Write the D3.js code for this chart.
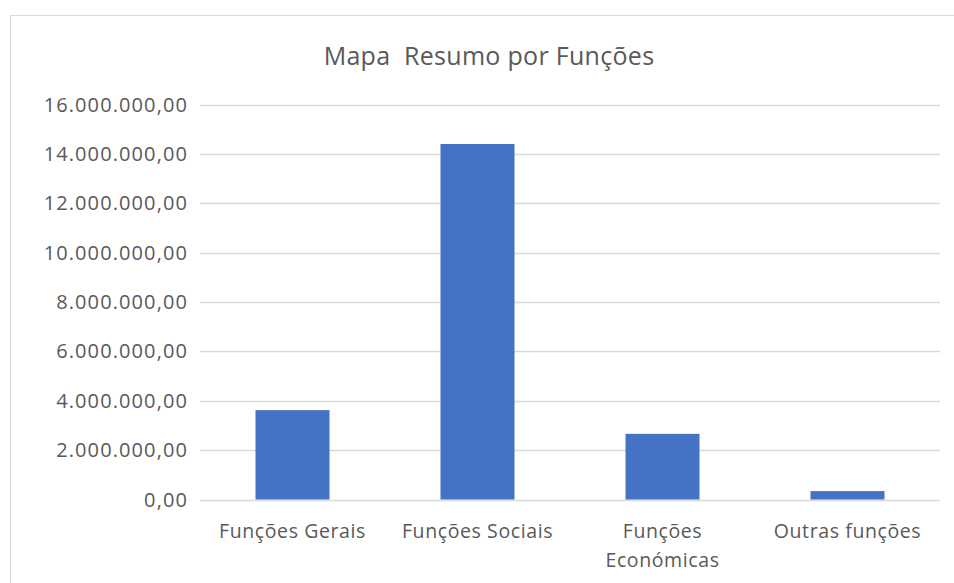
<!DOCTYPE html>
<html>
  <script src="https://d3js.org/d3.v7.min.js" type="text/JavaScript"></script>
  <style>
    body { margin: 0; background: #fff; }
    text { font-family: "Open Sans", sans-serif; fill: #595959; }
  </style>
  <body>
    <svg></svg>
    <script>
var categories = ['Funções Gerais', 'Funções Sociais', 'Funções Económicas', 'Outras funções'];
var values = [3620000, 14400000, 2660000, 340000];
var yTicks = [0, 2000000, 4000000, 6000000, 8000000, 10000000, 12000000, 14000000, 16000000];
var title = 'Mapa  Resumo por Funções';

var width = 954, height = 583;
var svg = d3.select('svg').attr('width', width).attr('height', height);

// chart border (runs past the window on right and bottom)
svg.append('rect')
  .attr('x', 10.5).attr('y', 15.5)
  .attr('width', 960).attr('height', 600)
  .style('fill', 'none')
  .style('stroke', '#d9d9d9');

var xScale = d3.scaleBand().domain(categories).range([200, 940]).paddingInner(0.6).paddingOuter(0.3);
var yScale = d3.scaleLinear().domain([0, 16000000]).range([499.5, 104.5]);

// number format like 16.000.000,00
var ptLocale = d3.formatLocale({ decimal: ',', thousands: '.', grouping: [3], currency: ['', ''] });
var fmt = ptLocale.format(',.2f');

// gridlines
svg.append('g')
  .selectAll('line')
  .data(yTicks)
  .enter()
  .append('line')
    .attr('x1', 200).attr('x2', 940)
    .attr('y1', d => Math.round(yScale(d)) + 0.5)
    .attr('y2', d => Math.round(yScale(d)) + 0.5)
    .style('stroke', '#d9d9d9')
    .style('stroke-width', '1.3px');

// y labels
svg.append('g')
  .selectAll('text')
  .data(yTicks)
  .enter()
  .append('text')
    .attr('x', 188)
    .attr('y', d => yScale(d) + 7)
    .attr('text-anchor', 'end')
    .style('font-size', '20px')
    .style('letter-spacing', '1.1px')
    .text(d => fmt(d));

// bars
svg.append('g')
  .selectAll('rect')
  .data(values)
  .enter()
  .append('rect')
    .attr('x', (d, i) => xScale(categories[i]))
    .attr('width', xScale.bandwidth())
    .attr('y', d => yScale(d))
    .attr('height', d => yScale(0) - yScale(d))
    .style('fill', '#4472c4');

// x labels, wrapped when wider than the band
var xLabels = svg.append('g')
  .selectAll('text')
  .data(categories)
  .enter()
  .append('text')
    .attr('text-anchor', 'middle')
    .style('font-size', '19.5px')
    .style('letter-spacing', '0.6px')
    .attr('transform', d => `translate(${xScale(d) + xScale.bandwidth() / 2}, 538)`);

xLabels.each(function(d) {
  var lines = d === 'Funções Económicas' ? ['Funções', 'Económicas'] : [d];
  d3.select(this).selectAll('tspan')
    .data(lines)
    .enter()
    .append('tspan')
      .attr('x', 0)
      .attr('dy', (l, i) => i ? 29 : 0)
      .text(l => l);
});

// title
svg.append('text')
  .attr('x', 489)
  .attr('y', 65)
  .attr('text-anchor', 'middle')
  .style('font-size', '25px')
  .style('white-space', 'pre')
  .style('letter-spacing', '0.3px')
  .text(title);
    </script>
  </body>
</html>
